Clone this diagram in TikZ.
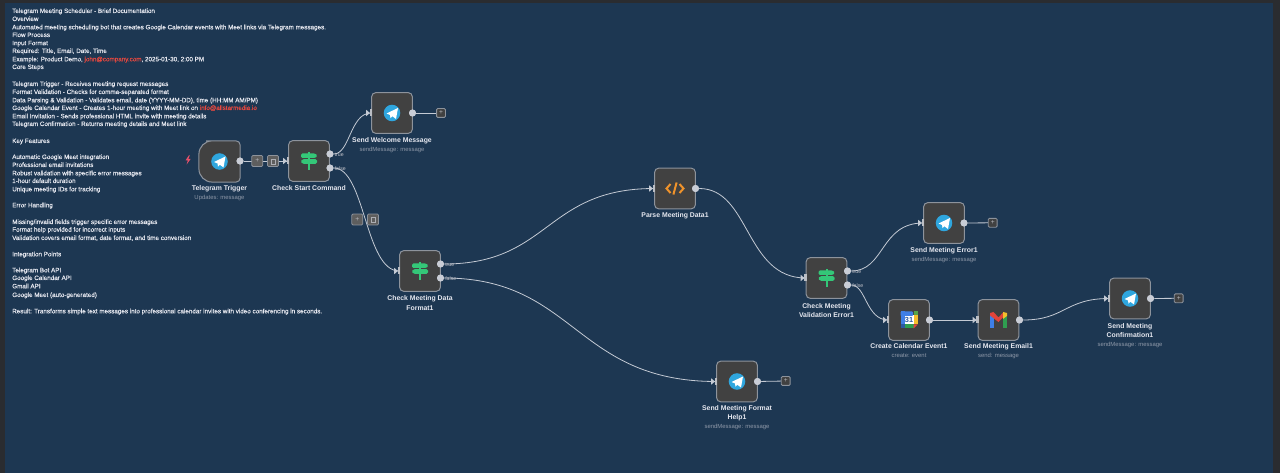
\documentclass[tikz,border=0pt]{standalone}
\usepackage{fontspec}
\setmainfont{Liberation Sans}
\newfontfamily\docfont[FakeBold=0.25]{Liberation Sans}
\usetikzlibrary{arrows.meta,calc}
\definecolor{bgc}{HTML}{1D3752}
\definecolor{framec}{HTML}{2A2C30}
\definecolor{cardc}{HTML}{414141}
\definecolor{edgec}{HTML}{8D939C}
\definecolor{wirec}{HTML}{C4CAD4}
\definecolor{dotc}{HTML}{C9CDD6}
\definecolor{textc}{HTML}{E6E8F0}
\definecolor{subc}{HTML}{8E98A8}
\definecolor{linkc}{HTML}{E8483F}
\definecolor{tgc}{HTML}{2FA6DE}
\definecolor{signc}{HTML}{34C778}
\definecolor{codec}{HTML}{F0932B}
\definecolor{gblue}{HTML}{3F7FE6}
\definecolor{ggreen}{HTML}{2F9E50}
\definecolor{gyellow}{HTML}{F4BE2C}
\definecolor{gred}{HTML}{E3443A}
\definecolor{boltc}{HTML}{E8506A}
\tikzset{
 x=0.75pt,y=-0.75pt,
 card/.style={draw=edgec,fill=cardc,line width=0.75pt,rounded corners=3pt,minimum width=30.5pt,minimum height=30.5pt,inner sep=0pt},
 outdot/.style={circle,fill=dotc,minimum size=5.2pt,inner sep=0pt},
 wire/.style={draw=wirec,line width=0.6pt},
 tinybox/.style={draw=edgec,fill=cardc,line width=0.6pt,rounded corners=0.8pt,minimum size=6.6pt,inner sep=0pt,text=textc!80!black,font=\fontsize{5}{5}\selectfont},
 hoverbox/.style={tinybox,fill=cardc!85!white,minimum size=8.2pt},
 title/.style={text=textc,font=\bfseries\fontsize{5.15}{6.9}\selectfont,align=center,inner sep=0pt,anchor=center},
 subtitle/.style={text=subc,font=\fontsize{4.45}{5}\selectfont,inner sep=0pt,anchor=center},
 porttag/.style={text=textc!85!black,font=\fontsize{3.9}{4}\selectfont,inner sep=0pt,anchor=west},
 doc/.style={text=textc,font=\docfont\fontsize{4.72}{6}\selectfont,inner sep=0pt,anchor=base west},
 pics/tgicon/.style={code={
   \fill[tgc] (0,0) circle (6.2pt);
   \fill[white] (-5.5,0.5) -- (6,-5) -- (4,6) -- (0.3,3.2) -- (-1.5,5.2) -- (-2,2) -- cycle;
 }},
 pics/signicon/.style={code={
   \fill[signc] (-1,-8.5) rectangle (1,9);
   \fill[signc,rounded corners=1pt] (-8,-7.5) -- (6.5,-7.5) -- (8.5,-5.2) -- (6.5,-3) -- (-8,-3) -- cycle;
   \fill[signc,rounded corners=1pt] (8,-1.8) -- (-6.5,-1.8) -- (-8.5,0.5) -- (-6.5,2.8) -- (8,2.8) -- cycle;
 }},
 pics/codeicon/.style={code={
   \draw[codec,line width=1.5pt] (-4.5,-4.5) -- (-8.5,0) -- (-4.5,4.5);
   \draw[codec,line width=1.5pt] (4.5,-4.5) -- (8.5,0) -- (4.5,4.5);
   \draw[codec,line width=1.5pt] (1.6,-6) -- (-1.6,6);
 }},
}
\newcommand{\inport}[1]{%
 \fill[edgec!60!white] ($(#1.west)+(-1.2,-3.5)$) rectangle ($(#1.west)+(1.3,3.5)$);
 \fill[wirec] ($(#1.west)+(-5,-3.2)$) -- ($(#1.west)+(-1.2,0)$) -- ($(#1.west)+(-5,3.2)$) -- cycle;
}
\begin{document}
\begin{tikzpicture}
\useasboundingbox (0,0) rectangle (1280,473);
\fill[framec] (0,0) rectangle (1280,473);
\fill[bgc] (5,3) rectangle (1273,473);

% documentation text
\foreach \yy/\dd in {
 13/Telegram Meeting Scheduler - Brief Documentation,
 21/Overview,
 29.3/Automated meeting scheduling bot that creates Google Calendar events with Meet links via Telegram messages.,
 37/Flow Process,
 45.2/Input Format,
 53/{Required: Title, Email, Date, Time},
 69/Core Steps,
 86/Telegram Trigger - Receives meeting request messages,
 94/Format Validation - Checks for comma-separated format,
 118.3/Email Invitation - Sends professional HTML invite with meeting details,
 126/Telegram Confirmation - Returns meeting details and Meet link,
 143/Key Features,
 159/Automatic Google Meet integration,
 167/Professional email invitations,
 175.3/Robust validation with specific error messages,
 183/1-hour default duration,
 191.3/Unique meeting IDs for tracking,
 207.3/Error Handling,
 231.7/Format help provided for incorrect inputs,
 240/{Validation covers email format, date format, and time conversion},
 256.3/Integration Points,
 272.3/Telegram Bot API,
 280/Google Calendar API,
 288.3/Gmail API,
 297/Google Meet (auto-generated),
 313.3/Result: Transforms simple text messages into professional calendar invites with video conferencing in seconds.}
 {\node[doc] at (12,\yy) {\dd};}
\node[doc] (miss) at (12,224) {Missing/invalid fields trigger specific error messages};
\node[doc] (ex) at (12,61.3) {Example: Product Demo, \textcolor{linkc}{john@company.com}, 2025-01-30, 2:00 PM};
\node[doc] (dp) at (12,102.3) {Data Parsing \& Validation - Validates email, date (YYYY-MM-DD), time (HH:MM AM/PM)};
\node[doc] (gc) at (12,110) {Google Calendar Event - Creates 1-hour meeting with Meet link on \textcolor{linkc}{info@allstarmedia.io}};

% cards
\node[card] (start) at (309,161) {};
\node[card] (welcome) at (392,113) {};
\node[card] (dataf) at (420,271) {};
\node[card] (parse) at (675,188.5) {};
\node[card] (help) at (737,381.5) {};
\node[card] (valid) at (826.5,278) {};
\node[card] (merr) at (944,223) {};
\node[card] (cal) at (909,320) {};
\node[card] (mail) at (998.5,320) {};
\node[card] (conf) at (1130,298.5) {};
\node[minimum width=30.5pt,minimum height=30.5pt,inner sep=0pt] (trig) at (219.5,161.5) {};
\draw[edgec,fill=cardc,line width=0.75pt,rounded corners=10pt]
  (trig.south) -- (trig.south west) -- (trig.north west) -- (trig.north) [rounded corners=3pt]
  -- (trig.north east) -- (trig.south east) -- cycle;
\fill[boltc] (188.8,155.5) -- (185.5,160.5) -- (187.8,160.5) -- (186.6,164.5) -- (190.6,159) -- (188.2,159) -- (189.8,155.5) -- cycle;

% output dots
\node[outdot] (trigo) at (240,161) {};
\node[outdot] (startt) at (330,154) {};
\node[outdot] (startf) at (330,168) {};
\node[outdot] (welo) at (412.5,113) {};
\node[outdot] (datat) at (440.5,264) {};
\node[outdot] (dataff) at (440.5,278) {};
\node[outdot] (parseo) at (695.5,188.5) {};
\node[outdot] (helpo) at (757.5,381.5) {};
\node[outdot] (validt) at (847.5,271) {};
\node[outdot] (validf) at (847.5,285) {};
\node[outdot] (merro) at (964,223) {};
\node[outdot] (calo) at (929.5,320) {};
\node[outdot] (mailo) at (1019.5,320) {};
\node[outdot] (confo) at (1150.5,298.5) {};

% connectors
\draw[wire] (trigo) -- (start.west);
\draw[wire] (startt) .. controls (350,154) and (350,113) .. (welcome.west);
\draw[wire] (startf) .. controls (365,168) and (365,271) .. (dataf.west);
\draw[wire] (datat) .. controls (550,264) and (545,188.5) .. (parse.west);
\draw[wire] (dataff) .. controls (575,278) and (575,381.5) .. (help.west);
\draw[wire] (parseo) .. controls (750,188.5) and (745,278) .. (valid.west);
\draw[wire] (validt) .. controls (885,271) and (880,223) .. (merr.west);
\draw[wire] (validf) .. controls (866,285) and (866,320) .. (cal.west);
\draw[wire] (calo) -- (mail.west);
\draw[wire] (mailo) .. controls (1065,320) and (1065,298.5) .. (conf.west);

% add boxes
\node[tinybox] (w1) at (441,113) {+};
\node[tinybox] (w2) at (992.7,222.8) {+};
\node[tinybox] (w3) at (1178.7,298.3) {+};
\node[tinybox] (w4) at (785.7,381) {+};
\draw[wire] (welo) -- (w1);
\draw[wire] (merro) -- (w2);
\draw[wire] (confo) -- (w3);
\draw[wire] (helpo) -- (w4);

% hover buttons
\node[hoverbox] (b1) at (257.3,161) {+};
\node[hoverbox] (b2) at (273,161) {};
\node[hoverbox] (b3) at (357.3,219.5) {+};
\node[hoverbox] (b4) at (373,219.5) {};
\foreach \n in {b2,b4}{
 \draw[textc!75!black,line width=0.3pt] ($(\n)+(-2.4,-2.2)$) -- ($(\n)+(2.4,-2.2)$);
 \draw[textc!75!black,line width=0.3pt] ($(\n)+(-1.7,-2.2)$) rectangle ($(\n)+(1.7,2.8)$);
}

% input ports
\foreach \n in {start,welcome,dataf,parse,help,valid,merr,cal,mail,conf}{\inport{\n}}

% port tags
\node[porttag] (pt1) at (334.5,154.5) {true};
\node[porttag] (pt2) at (334.5,168.5) {false};
\node[porttag] (pt3) at (445,264.5) {true};
\node[porttag] (pt4) at (445,278.5) {false};
\node[porttag] (pt5) at (852,271.5) {true};
\node[porttag] (pt6) at (852,285.5) {false};

% redraw output dots above wires
\foreach \n in {trigo,startt,startf,welo,datat,dataff,parseo,helpo,validt,validf,merro,calo,mailo,confo}{\fill[dotc] (\n) circle (3.5);}

% icons
\path (trig) pic {tgicon};
\path (welcome) pic {tgicon};
\path (help) pic {tgicon};
\path (merr) pic {tgicon};
\path (conf) pic {tgicon};
\path (start) pic {signicon};
\path (dataf) pic {signicon};
\path (valid) pic {signicon};
\path (parse) pic {codeicon};
% calendar icon
\begin{scope}[shift={(cal)}]
 \fill[white] (-5,-5) rectangle (5,5);
 \fill[gblue,rounded corners=0.7pt] (-8.5,-8.5) rectangle (4,-4);
 \fill[gblue] (-8.5,-8.5) rectangle (-4.5,4.5);
 \fill[gyellow] (4.5,-4.5) rectangle (8.5,4.5);
 \fill[ggreen] (-4.5,4.5) rectangle (4.5,8.5);
 \fill[gred] (4.5,4.5) -- (8.5,4.5) -- (4.5,8.5) -- cycle;
 \fill[gblue!70!black] (-8.5,4.5) rectangle (-4.5,8.5);
 \fill[ggreen!80!gyellow] (4.5,-8.5) rectangle (8.5,-4.5);
 \node[text=gblue!70!black,inner sep=0pt,font=\bfseries\fontsize{5.5}{5}\selectfont] (c31) at (0,0.3) {31};
\end{scope}
% gmail icon
\begin{scope}[shift={(mail)}]
 \fill[gblue] (-8.5,-5.5) rectangle (-4.7,8);
 \fill[ggreen] (4.7,-5.5) rectangle (8.5,8);
 \fill[gred] (-8.5,-7) -- (-5,-8) -- (0,-2.5) -- (5,-8) -- (5,-3.2) -- (0,2) -- (-8.5,-4.5) -- cycle;
 \fill[gyellow] (4.7,-8) -- (8.5,-7) -- (8.5,-4) -- (4.7,-1.2) -- cycle;
\end{scope}

% labels
\node[title] (l1) at (219.5,188.3) {Telegram Trigger};
\node[subtitle] (s1) at (219.5,198) {Updates: message};
\node[title] (l2) at (309,188.3) {Check Start Command};
\node[title] (l3) at (392,140.7) {Send Welcome Message};
\node[subtitle] (s3) at (392,149.5) {sendMessage: message};
\node[title] (l4) at (420,303) {Check Meeting Data\\Format1};
\node[title] (l5) at (675,216) {Parse Meeting Data1};
\node[title] (l6) at (737,413.2) {Send Meeting Format\\Help1};
\node[subtitle] (s6) at (737,427) {sendMessage: message};
\node[title] (l7) at (826.5,310.2) {Check Meeting\\Validation Error1};
\node[title] (l8) at (944,250.5) {Send Meeting Error1};
\node[subtitle] (s8) at (944,260) {sendMessage: message};
\node[title] (l9) at (909,346.5) {Create Calendar Event1};
\node[subtitle] (s9) at (909,356) {create: event};
\node[title] (l10) at (998.5,346.5) {Send Meeting Email1};
\node[subtitle] (s10) at (998.5,356) {send: message};
\node[title] (l11) at (1130,330.8) {Send Meeting\\Confirmation1};
\node[subtitle] (s11) at (1130,344.5) {sendMessage: message};
\end{tikzpicture}
\end{document}
